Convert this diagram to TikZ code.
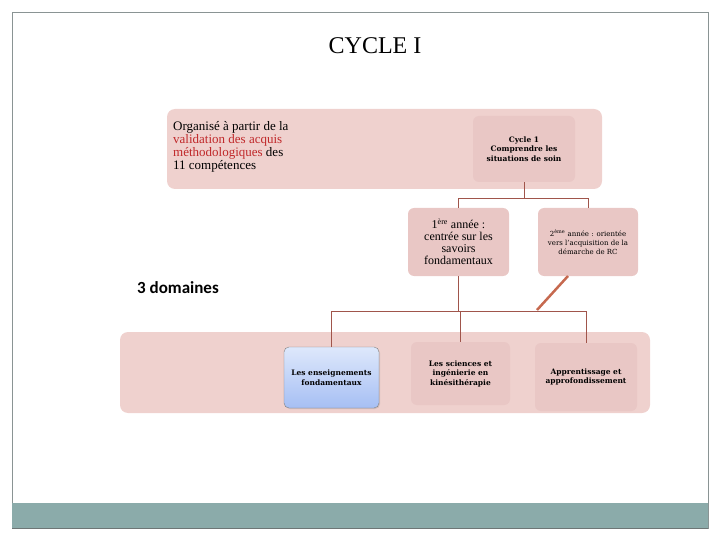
\documentclass[tikz,border=0pt]{standalone}
\usepackage{fontspec}
\setmainfont{Liberation Serif}
\newfontfamily\domfont{Carlito}
\newfontfamily\boxfont{DejaVu Serif}
\usepackage{tikz}
\usetikzlibrary{calc}
\usetikzlibrary{shadings, shadows}

\definecolor{framegray}{HTML}{8A9494}
\definecolor{bargray}{HTML}{8BABAA}
\definecolor{bandpink}{HTML}{EFD1CE}
\definecolor{boxpink}{HTML}{E9C7C5}
\definecolor{linebrown}{HTML}{A0554B}
\definecolor{diagbrown}{HTML}{C6694F}
\definecolor{redtext}{HTML}{C0282A}
\definecolor{bluetop}{HTML}{DEE8FB}
\definecolor{bluebottom}{HTML}{A6BFF4}

\begin{document}
\begin{tikzpicture}[x=1pt,y=-1pt,
		band/.style={fill=bandpink, rounded corners=8pt, inner sep=0pt},
		pinkbox/.style={fill=boxpink, rounded corners=6pt, inner sep=1pt, align=center},
		bluebox/.style={top color=bluetop, bottom color=bluebottom, draw=gray, rounded corners=5pt, inner sep=1pt, align=center, drop shadow={opacity=0.25, shadow xshift=1pt, shadow yshift=-1pt}},
		smallbold/.style={font=\boxfont\fontsize{7.5}{9.5}\selectfont\bfseries},
		link/.style={linebrown, thin}]
				\useasboundingbox (0,0) rectangle (720,540);
				\draw [framegray, thin] (12,12) rectangle (708,528);% Draw frame
				\fill [bargray] (12,503) rectangle (708,528);% Draw bottom bar
				\draw [framegray!80!black, thin] (12,528) -- (708,528);
				
				\node (Title) at (375,46) {\fontsize{24}{28}\selectfont CYCLE I};
				
				% top band
				\node (TopBand) [band, minimum width=435pt, minimum height=80pt] at (384.5,149) {};
				\node (Organise) [anchor=north west, align=left, inner sep=0pt, font=\fontsize{13}{13}\selectfont] at (173,121) {Organisé à partir de la\\ \textcolor{redtext}{validation des acquis}\\ \textcolor{redtext}{méthodologiques} des\\ 11 compétences};
				\node (CycleBox) [pinkbox, smallbold, minimum width=102pt, minimum height=66pt] at (524,149) {Cycle 1\\ Comprendre les\\ situations de soin};
				
				% two years
				\node (FirstYear) [pinkbox, minimum width=101pt, minimum height=68pt, font=\fontsize{12}{12}\selectfont] at (458.5,242) {1\textsuperscript{ère} année :\\ centrée sur les\\ savoirs\\ fondamentaux};
				\node (SecondYear) [pinkbox, minimum width=100pt, minimum height=68pt, font=\boxfont\fontsize{7}{9}\selectfont] at (588,242) {2\textsuperscript{ème} année : orientée\\ vers l’acquisition de la\\ démarche de RC};
				
				\node (Domaines) at (178,288) {\domfont\fontsize{17}{20}\selectfont\bfseries 3 domaines};
				
				% bottom band
				\node (BottomBand) [band, minimum width=530pt, minimum height=81pt] at (385,372.5) {};
				\node (Enseign) [bluebox, smallbold, minimum width=95pt, minimum height=61pt] at (331.5,377.5) {Les enseignements\\ fondamentaux};
				\node (Sciences) [pinkbox, smallbold, minimum width=99pt, minimum height=63pt] at (460.5,373.5) {Les sciences et\\ ingénierie en\\ kinésithérapie};
				\node (Apprent) [pinkbox, smallbold, minimum width=102pt, minimum height=68pt] at (586,377) {Apprentissage et\\ approfondissement};
				
				\coordinate (TopBus) at (0,198);
				\coordinate (Bus) at (0,311);
				\coordinate (DiagStart) at (568,276);
				\coordinate (DiagEnd) at (537,310);
				
				\draw [link] (CycleBox.south) -- (CycleBox.south |- TopBus) -| (FirstYear.north);
				\draw [link] (CycleBox.south |- TopBus) -| (SecondYear.north);
				\draw [link] (FirstYear.south) -- (FirstYear.south |- Bus) -| (Sciences.north);
				\draw [link] (Enseign.north) -- (Enseign.north |- Bus) -| (Apprent.north);
				\draw [diagbrown, line width=2.5pt] (DiagStart) -- (DiagEnd);
				
				\end{tikzpicture}
\end{document}
